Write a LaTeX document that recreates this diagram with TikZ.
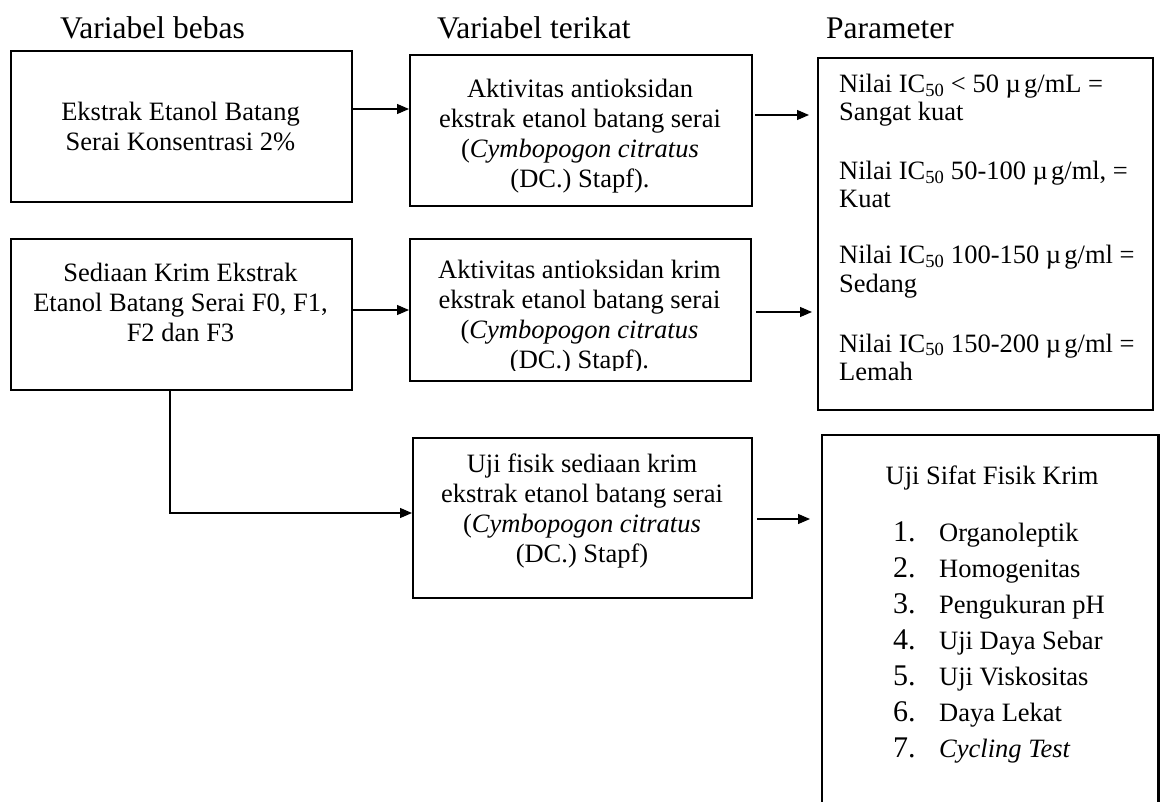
\documentclass[tikz,border=0pt]{standalone}
\usepackage{fontspec}
\setmainfont{Liberation Serif}
\usetikzlibrary{arrows.meta}
\begin{document}
\begin{tikzpicture}[x=1pt,y=-1pt,
  box/.style={draw, line width=2.2pt, inner sep=0pt, anchor=north west},
  openbox/.style={inner sep=0pt, anchor=north west},
  edge/.style={line width=2.2pt},
  txt/.style={font=\fontsize{26.5}{30}\selectfont, align=center, inner sep=0pt, anchor=north},
  ltxt/.style={font=\fontsize{26.5}{30}\selectfont, inner sep=0pt, anchor=base west},
  num/.style={font=\fontsize{30}{31}\selectfont, inner sep=0pt, anchor=base west},
  ttl/.style={font=\fontsize{31.5}{34}\selectfont, inner sep=0pt, anchor=base west},
  arr/.style={-{Triangle[length=12pt,width=10pt]}, line width=1.2pt}]
\fill[white] (0,0) rectangle (1161,802);
\useasboundingbox (0,0) rectangle (1161,802);

% titles
\node[ttl] (t1) at (60,39) {Variabel bebas};
\node[ttl] (t2) at (437,39) {Variabel terikat};
\node[ttl] (t3) at (826,39) {Parameter};

% boxes
\node[box, minimum width=341, minimum height=151] (A1) at (10,50) {};
\node[box, minimum width=342, minimum height=151] (B1) at (409,54) {};
\node[box, minimum width=335, minimum height=352] (C) at (817,57) {};
\node[box, minimum width=341, minimum height=151] (A2) at (10,238) {};
\node[box, minimum width=341, minimum height=142] (B2) at (409,238) {};
\node[box, minimum width=339, minimum height=160] (B3) at (412,437) {};
\node[openbox, minimum width=336, minimum height=369] (D) at (822,435) {};
\draw[edge] (D.south west) -- (D.north west) -- (D.north east) -- (D.south east);

% box texts
\node[txt] (A1t) at (180.5,102) {Ekstrak Etanol Batang\\Serai Konsentrasi 2\%};
\node[txt] (B1t) at (580,79) {Aktivitas antioksidan\\ekstrak etanol batang serai\\(\textit{Cymbopogon citratus}\\(DC.) Stapf).};
\node[txt] (A2t) at (180.5,263) {Sediaan Krim Ekstrak\\Etanol Batang Serai F0, F1,\\F2 dan F3};
\begin{scope}
\clip (409,238) rectangle (750,370);
\node[txt] (B2t) at (579.5,260) {Aktivitas antioksidan krim\\ekstrak etanol batang serai\\(\textit{Cymbopogon citratus}\\(DC.) Stapf).};
\end{scope}
\node[txt] (B3t) at (582,454) {Uji fisik sediaan krim\\ekstrak etanol batang serai\\(\textit{Cymbopogon citratus}\\(DC.) Stapf)};

% parameter box
\node[ltxt] (c1) at (839,93) {Nilai IC\textsubscript{50} < 50 µ\hspace{0.12em}g/mL =};
\node[ltxt] (c2) at (839,121) {Sangat kuat};
\node[ltxt] (c3) at (839,180) {Nilai IC\textsubscript{50} 50-100 µ\hspace{0.12em}g/ml, =};
\node[ltxt] (c4) at (839,208) {Kuat};
\node[ltxt] (c5) at (839,264) {Nilai IC\textsubscript{50} 100-150 µ\hspace{0.12em}g/ml =};
\node[ltxt] (c6) at (839,292) {Sedang};
\node[ltxt] (c7) at (839,352) {Nilai IC\textsubscript{50} 150-200 µ\hspace{0.12em}g/ml =};
\node[ltxt] (c8) at (839,380) {Lemah};

% physical test box
\node[font=\fontsize{26.5}{30}\selectfont, inner sep=0pt, anchor=base] (Dt) at (992,484) {Uji Sifat Fisik Krim};
\foreach \i/\t [count=\k from 0] in {1/Organoleptik,2/Homogenitas,3/Pengukuran pH,4/Uji Daya Sebar,5/Uji Viskositas,6/Daya Lekat,7/\textit{Cycling Test}}{
  \node[num] (n\i) at (893,541+36*\k) {\i.};
  \node[ltxt] (d\i) at (939,541+36*\k) {\t};
}

% connectors
\coordinate (h1) at (0,109);
\coordinate (h2) at (0,115);
\coordinate (h3) at (0,310);
\coordinate (h4) at (0,312);
\coordinate (h5) at (0,513);
\coordinate (h6) at (0,519);
\coordinate (v) at (170,0);
\draw[arr] (A1.east |- h1) -- (B1.west |- h1);
\draw[arr, shorten <=2pt, shorten >=8pt] (B1.east |- h2) -- (C.west |- h2);
\draw[arr] (A2.east |- h3) -- (B2.west |- h3);
\draw[arr, shorten <=4pt, shorten >=5pt] (B2.east |- h4) -- (C.west |- h4);
\draw[arr] (A2.south -| v) -- (v |- h5) -- (B3.west |- h5);
\draw[arr, shorten <=4pt, shorten >=12pt] (B3.east |- h6) -- (D.west |- h6);
\end{tikzpicture}
\end{document}
